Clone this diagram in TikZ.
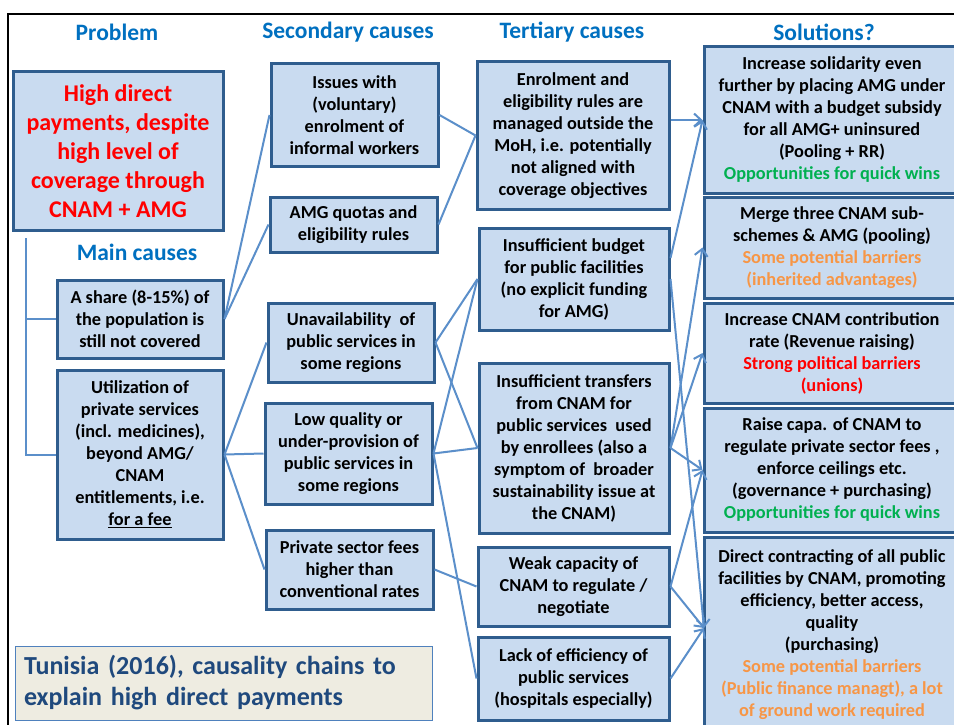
\documentclass[tikz,border=0pt]{standalone}
\usepackage{fontspec}
\setmainfont{Carlito}
\usetikzlibrary{arrows.meta,calc}

\definecolor{boxfill}{HTML}{C9DBF0}
\definecolor{boxline}{HTML}{2F5D8E}
\definecolor{linkblue}{HTML}{5B8FCA}
\definecolor{headblue}{HTML}{0070C0}
\definecolor{titleblue}{HTML}{1F497D}
\definecolor{titlefill}{HTML}{EEECE1}
\definecolor{titleline}{HTML}{4F81BD}
\definecolor{qgreen}{HTML}{00B050}
\definecolor{barorange}{HTML}{F79646}
\definecolor{barred}{HTML}{FF0000}

\tikzset{
  cbox/.style={draw=boxline, fill=boxfill, line width=3pt, align=center,
    inner sep=0pt, text=black, font=\fontsize{18.3}{22}\selectfont\bfseries},
  link/.style={draw=linkblue, line width=2pt},
  arr/.style={link, -{Straight Barb[length=7pt,width=13pt]}},
  head/.style={text=headblue, font=\fontsize{23.5}{28}\selectfont\bfseries},
}

\begin{document}
\begin{tikzpicture}[x=1pt, y=-1pt]
\useasboundingbox (0,0) rectangle (954,725);
\clip (0,0) rectangle (954,725);
\fill[white] (0,0) rectangle (954,725);

% outer frame
\draw[line width=2.5pt] (8,14) rectangle (990,770);

% column headings
\node[head] (hprob) at (117,32) {Problem};
\node[head] (hsec) at (348,32) {Secondary causes};
\node[head] (hter) at (572,32) {Tertiary causes};
\node[head] (hsol) at (824,32) {Solutions?};
\node[head] (hmain) at (137,252) {Main causes};

% problem
\node[cbox, minimum width=210pt, minimum height=158pt, text=barred,
  font=\fontsize{24}{29}\selectfont\bfseries] (P) at (118,151)
  {High direct\\payments, despite\\high level of\\coverage through\\CNAM + AMG};

% main causes
\node[cbox, minimum width=166pt, minimum height=78pt] (A) at (140,319)
  {A share (8-15\%) of\\the population is\\still not covered};
\node[cbox, minimum width=166pt, minimum height=169pt] (U) at (140,454.5)
  {Utilization of\\private services\\(incl. medicines),\\beyond AMG/\\CNAM\\entitlements, i.e.\\\underline{for a fee}};

% secondary causes
\node[cbox, minimum width=167pt, minimum height=102pt] (I) at (354.5,115)
  {Issues with\\(voluntary)\\enrolment of\\informal workers};
\node[cbox, minimum width=167pt, minimum height=55pt] (Q) at (353.5,224.5)
  {AMG quotas and\\eligibility rules};
\node[cbox, minimum width=166pt, minimum height=79pt] (V) at (351,342.5)
  {Unavailability\ \ of\\public services in\\some regions};
\node[cbox, minimum width=167pt, minimum height=101pt] (L) at (348.5,453.5)
  {Low quality or\\under-provision of\\public services in\\some regions};
\node[cbox, minimum width=167pt, minimum height=79pt] (F) at (349.5,569.5)
  {Private sector fees\\higher than\\conventional rates};

% tertiary causes
\node[cbox, minimum width=192pt, minimum height=147pt] (T1) at (573,135.5)
  {Enrolment and\\eligibility rules are\\managed outside the\\MoH, i.e. potentially\\not aligned with\\coverage objectives};
\node[cbox, minimum width=190pt, minimum height=102pt] (T2) at (574,279)
  {Insufficient budget\\for public facilities\\(no explicit funding\\for AMG)};
\node[cbox, minimum width=190pt, minimum height=170pt] (T3) at (574,448)
  {Insufficient transfers\\from CNAM for\\public services\ \ used\\by enrollees (also a\\symptom of\ \ broader\\sustainability issue at\\the CNAM)};
\node[cbox, minimum width=191pt, minimum height=79pt] (T4) at (573.5,586.5)
  {Weak capacity of\\CNAM to regulate /\\negotiate};
\node[cbox, minimum width=191pt, minimum height=83pt] (T5) at (573.5,678.5)
  {Lack of efficiency of\\public services\\(hospitals especially)};

% solutions
\node[cbox, minimum width=256pt, minimum height=146pt] (S1) at (832,120)
  {Increase solidarity even\\further by placing AMG under\\CNAM with a budget subsidy\\for all AMG+ uninsured\\(Pooling + RR)\\{\color{qgreen}Opportunities for quick wins}};
\node[cbox, minimum width=256pt, minimum height=101pt] (S2) at (832,247.5)
  {Merge three CNAM sub-\\schemes \& AMG (pooling)\\{\color{barorange}Some potential barriers}\\{\color{barorange}(inherited advantages)}};
\node[cbox, minimum width=256pt, minimum height=100pt] (S3) at (832,353)
  {Increase CNAM contribution\\rate (Revenue raising)\\{\color{barred}Strong political barriers}\\{\color{barred}(unions)}};
\node[cbox, minimum width=256pt, minimum height=124pt] (S4) at (832,470)
  {Raise capa. of CNAM to\\regulate private sector fees ,\\enforce ceilings etc.\\(governance + purchasing)\\{\color{qgreen}Opportunities for quick wins}};
\node[cbox, minimum width=256pt, minimum height=196pt] (S5) at (832,635)
  {Direct contracting of all public\\facilities by CNAM, promoting\\efficiency, better access,\\quality\\(purchasing)\\{\color{barorange}Some potential barriers}\\{\color{barorange}(Public finance managt), a lot}\\{\color{barorange}of ground work required}};

% caption
\node[draw=titleline, fill=titlefill, line width=1pt, minimum height=74pt,
  inner xsep=9pt, text width=399pt, align=left, text=titleblue,
  font=\fontsize{26}{31}\selectfont\bfseries] (cap) at (223.5,683)
  {Tunisia (2016), causality chains to\\explain high direct payments};

% main-cause bracket
\coordinate (br) at (26,238);
\draw[link] (br) |- (U.west);
\draw[link] (A.west) -- (A.west -| br);

% main -> secondary
\draw[link] (A.east) -- (I.west);
\draw[link] (A.east) -- (Q.west);
\draw[link] (U.east) -- (V.west);
\draw[link] (U.east) -- (L.west);
\draw[link] (U.east) -- (F.west);

% secondary -> tertiary
\draw[link] (I.east) -- (T1.west);
\draw[link] (Q.east) -- (T1.west);
\draw[link] (V.east) -- (T2.west);
\draw[link] (V.east) -- (T3.west);
\draw[link] (L.east) -- (T2.west);
\draw[link] (L.east) -- (T3.west);
\draw[link] (L.east) -- (T5.west);
\draw[link] (F.east) -- (T4.west);

% tertiary -> solutions
\coordinate (t2up) at ($(T2.east)+(0,-21)$);
\coordinate (s5in) at (704,628);
\draw[arr] (T1.east |- S1.west) -- (S1.west);
\draw[arr] (t2up) -- (S1.west);
\draw[arr] (T2.east) -- (s5in);
\draw[arr] (T3.east) -- (S2.west);
\draw[arr] (T3.east) -- (S3.west);
\draw[arr] (T3.east) -- (S4.west);
\draw[arr] (T4.east) -- (S4.west);
\draw[arr] (T4.east) -- (s5in);
\draw[arr] (T5.east) -- (s5in);
\end{tikzpicture}
\end{document}
